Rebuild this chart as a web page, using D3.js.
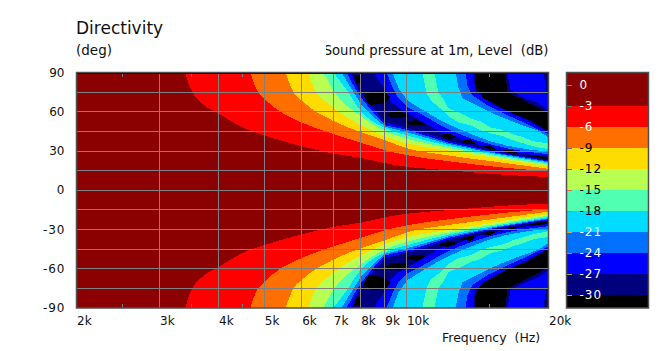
<!DOCTYPE html>
<html>
<head>
<meta charset="utf-8">
<script src="https://cdn.jsdelivr.net/npm/d3@7"></script>
<style>
  html, body { margin: 0; padding: 0; background: #fff; }
  svg { display: block; }
  text { font-family: "DejaVu Sans", sans-serif; fill: #111; white-space: pre; }
</style>
</head>
<body>
<div id="chart"></div>
<script>
// Niveaux de la barre de couleur (dB)
const levels = [0, -3, -6, -9, -12, -15, -18, -21, -24, -27, -30];
const bandColors = ['#8b0000', '#ff0000', '#ff6f00', '#ffdc00', '#b9ff51', '#50ffb2', '#00dcff', '#0070ff', '#0000ff', '#00007f', '#000000'];
const levelTextColors = ['#fff', '#fff', '#fff', '#000', '#000', '#000', '#000', '#fff', '#fff', '#fff', '#fff'];
const levelTickColors = ['#4f8f9f', '#3f8f8f', '#8f9f8f', '#4f6fbf', '#3f5fcf', '#ef5f3f', '#cf6f5f', '#cfaf3f', '#9f9f5f', '#bf9f2f', '#9f9f9f'];

const freqTicks = [2000, 3000, 4000, 5000, 6000, 7000, 8000, 9000, 10000, 20000];
const freqLabels = ['2k', '3k', '4k', '5k', '6k', '7k', '8k', '9k', '10k', '20k'];
const minorFreqTicks = [2500, 3500, 4500, 15000];
const angleLabels = [90, 60, 30, 0, -30, -60, -90];
const angleGrid = [75, 60, 45, 30, 15, 0, -15, -30, -45, -60, -75];

// Contours : [fréquence Hz, angle deg], moitié haute (le bas est le miroir)
// Lobe principal, le niveau descend quand l'angle monte
const fall3 = [[3404, 90], [3430, 85], [3524, 74.7], [3700, 66], [4000, 58.7], [4493, 48], [5000, 42], [5490, 37.5], [6026, 33.5], [7000, 28], [8030, 24.7], [9030, 20.6], [10054, 17.9], [12220, 15.3], [15590, 12.2], [20000, 10.1]];
const fall6 = [[4671, 90], [4789, 78.6], [5000, 70], [5358, 61], [6026, 51.5], [7000, 43], [8030, 36.2], [9030, 30.5], [10054, 26.7], [12220, 22.3], [15590, 17.8], [20000, 14.5]];
const fall9 = [[5544, 90], [5737, 76.3], [6026, 68], [7000, 53], [8030, 44.2], [9030, 38.1], [10054, 32], [12220, 26.7], [15590, 21.6], [20000, 16.4]];
const fall12 = [[6200, 90], [6355, 79], [7000, 63.3], [8030, 49.6], [9030, 41.2], [10054, 35.8], [12220, 30.5], [15590, 24.2], [20000, 18.3]];
const fall15 = [[6671, 90], [7000, 76.3], [8030, 56.4], [9030, 45], [10054, 39.3], [12220, 32.6], [15590, 25.9], [20000, 19.4]];
const fall18 = [[7000, 90], [7430, 77.8], [8030, 60], [9030, 47.3], [10054, 41.9], [12220, 34.1], [15590, 26.9], [20000, 20.6]];
const fall21 = [[7284, 90], [7686, 76.3], [8030, 65.5], [8520, 56], [9030, 48.4], [10054, 44.2], [12220, 35.5], [15590, 27.7], [20000, 21.4]];
const fall24 = [[7470, 90], [7724, 80.1], [8030, 70.5], [8520, 59], [9030, 49.6], [10054, 46.1], [12220, 36.6], [15590, 28.4], [20000, 22.1]];
const fall27 = [[7648, 90], [7803, 81], [8030, 74.5], [8520, 62], [9030, 51.9], [10054, 47.7], [12220, 38.1], [15590, 29], [20000, 22.9]];
// Premier lobe secondaire, montée
const rise27 = [[8650, 90], [8600, 87.7], [9030, 76.3], [9250, 68.6], [9623, 62.5], [10100, 58.7], [10870, 51.9], [11810, 44.2], [12830, 40.4], [13870, 35.8], [15070, 32.8], [16370, 29.7], [18050, 27.5], [20000, 25.9]];
const rise24 = [[9073, 90], [9347, 78.6], [9623, 70.2], [10054, 63.3], [10870, 57.2], [11810, 49.6], [12830, 43.5], [13870, 38.9], [15070, 35.1], [16370, 32], [18050, 29.4], [20000, 27.5]];
const rise21 = [[9347, 90], [9623, 78], [10054, 68.6], [10870, 61], [11810, 53.4], [12830, 47.3], [13870, 42.3], [15070, 37.4], [16370, 34], [18050, 31.3], [20000, 29.4]];
const rise18 = [[10810, 90], [11030, 74.7], [11250, 68.6], [11810, 62.5], [12280, 56.4], [12890, 51.9], [13670, 49.6], [14350, 45.8], [15070, 43.5], [16060, 41.2], [16860, 38.1], [17700, 35.8], [18580, 33.6], [20000, 31.3]];
// Descente du lobe secondaire
const fallB18 = [[11470, 90], [11690, 74.7], [11990, 69.4], [12280, 62.5], [12890, 59.5], [13670, 54.9], [14350, 52.6], [15070, 48], [15830, 46.5], [16860, 42.7], [17700, 40.4], [18580, 37.4], [20000, 35.8]];
const fallB21 = [[12710, 90], [12890, 78.6], [13150, 70.2], [14350, 63.3], [15590, 57.2], [17200, 51], [18940, 45.8], [20000, 40.4]];
const fallB24 = [[13340, 90], [13470, 80.1], [13800, 72.5], [14850, 64.8], [16060, 58.7], [17700, 51.9], [20000, 42.7]];
const fallB27 = [[13800, 90], [14010, 76.3], [15070, 67.1], [16210, 61], [18050, 53.4], [20000, 44.2]];
const fallB30 = [[13940, 90], [14010, 78.6], [14570, 70.2], [15300, 66.4], [16620, 59.5], [18320, 53.4], [20000, 45]];
// Deuxième lobe, remontée
const riseC30 = [[16210, 90], [16370, 74.7], [17440, 70.2], [18640, 64.8], [20000, 58.7]];
const riseC27 = [[16370, 90], [16620, 76.3], [17700, 70.9], [18940, 67.1], [20000, 61]];
const fallC27 = [[19500, 90], [19800, 74.7], [20000, 72.5]];

// Taches noires le long du premier creux
const nullBlobs = [
  [[7720, 88], [8030, 88], [8030, 81.6], [7850, 81.6]],
  [[8100, 72.5], [8520, 76.3], [9030, 75.5], [9250, 70.9], [8950, 66.4], [8370, 64.8], [8200, 68]],
  [[9030, 58.7], [9623, 61], [10054, 57.5], [9900, 55.5], [9300, 55.5]],
  [[10000, 52], [10500, 54], [10980, 50.3], [10700, 49.6], [10250, 49.6]],
  [[11700, 41.9], [12220, 43.5], [12890, 40.4], [12220, 39]],
  [[13000, 37.4], [13670, 38.9], [14100, 35.5], [13500, 35.1]],
  [[14500, 33.6], [15000, 34.3], [15500, 32], [15000, 31.3]],
  [[16050, 30.5], [16800, 30.5], [17200, 28.4], [16500, 28.4]],
  [[17900, 27.2], [19000, 26.7], [20000, 25], [20000, 23.6], [18800, 24.8]]
];

const width = 666, height = 351;
const plot = { left: 76.5, right: 548.5, top: 72.5, bottom: 308 };
const bar = { left: 566.5, right: 648.5, top: 72.5, bottom: 308 };

const svg = d3.select('#chart').append('svg')
  .attr('width', width)
  .attr('height', height);

const x = d3.scaleLog().domain([2000, 20000]).range([plot.left, plot.right]);
const y = d3.scaleLinear().domain([90, -90]).range([plot.top, plot.bottom]);
const levelY = d3.scaleLinear().domain([0, -30]).range([85, 295]);

// Couleur d'un niveau : -3 dB peint la bande rouge, etc.
const colorOf = db => bandColors[levels.indexOf(db)];

// Ordre de peinture, du fond vers le dessus
const layers = [
  { pts: fall3, db: -3, smooth: true }, { pts: fall6, db: -6, smooth: true },
  { pts: fall9, db: -9, smooth: true }, { pts: fall12, db: -12, smooth: true },
  { pts: fall15, db: -15, smooth: true }, { pts: fall18, db: -18, smooth: true },
  { pts: fall21, db: -21 }, { pts: fall24, db: -24 }, { pts: fall27, db: -27 },
  { pts: rise27, db: -24 }, { pts: rise24, db: -21 }, { pts: rise21, db: -18 }, { pts: rise18, db: -15 },
  { pts: fallB18, db: -18 }, { pts: fallB21, db: -21 }, { pts: fallB24, db: -24 },
  { pts: fallB27, db: -27 }, { pts: fallB30, db: -30 },
  { pts: riseC30, db: -27 }, { pts: riseC27, db: -24 }, { pts: fallC27, db: -27 }
];

const field = svg.append('g').attr('shape-rendering', 'crispEdges');
field.append('rect')
  .attr('x', plot.left).attr('y', plot.top)
  .attr('width', plot.right - plot.left).attr('height', plot.bottom - plot.top)
  .attr('fill', bandColors[0]);

[1, -1].forEach(side => {
  const area = d3.area()
    .x(d => x(d[0]))
    .y0(y(side * 90))
    .y1(d => y(side * d[1]));
  layers.forEach(layer => {
    field.append('path')
      .attr('d', area.curve(layer.smooth ? d3.curveMonotoneX : d3.curveLinear)(layer.pts))
      .attr('fill', colorOf(layer.db));
  });
  const blob = d3.line().x(d => x(d[0])).y(d => y(side * d[1]));
  nullBlobs.forEach(b => {
    field.append('path').attr('d', blob(b) + 'Z').attr('fill', bandColors[10]);
  });
});

// Grille
const grid = svg.append('g').attr('stroke', '#808080').attr('stroke-width', 1).attr('shape-rendering', 'crispEdges');
freqTicks.slice(1, -1).forEach(f => {
  grid.append('line').attr('x1', x(f)).attr('x2', x(f)).attr('y1', plot.top).attr('y2', plot.bottom);
});
angleGrid.forEach(a => {
  grid.append('line').attr('x1', plot.left).attr('x2', plot.right).attr('y1', y(a)).attr('y2', y(a));
});
minorFreqTicks.forEach(f => {
  grid.append('line').attr('x1', x(f)).attr('x2', x(f)).attr('y1', plot.top).attr('y2', plot.top + 4);
  grid.append('line').attr('x1', x(f)).attr('x2', x(f)).attr('y1', plot.bottom - 4).attr('y2', plot.bottom);
});

// Cadre
svg.append('line').attr('x1', plot.left).attr('x2', plot.right).attr('y1', plot.top + 1).attr('y2', plot.top + 1)
  .attr('stroke', '#000').attr('shape-rendering', 'crispEdges');
svg.append('rect')
  .attr('x', plot.left).attr('y', plot.top)
  .attr('width', plot.right - plot.left).attr('height', plot.bottom - plot.top)
  .attr('fill', 'none').attr('stroke', '#505050').attr('stroke-width', 1.5);

// Barre de couleur
const barG = svg.append('g');
levels.forEach((db, i) => {
  const y0 = i === 0 ? bar.top : levelY(db);
  const y1 = i === levels.length - 1 ? bar.bottom : levelY(levels[i + 1]);
  barG.append('rect')
    .attr('x', bar.left).attr('y', y0)
    .attr('width', bar.right - bar.left).attr('height', y1 - y0)
    .attr('fill', bandColors[i]).attr('shape-rendering', 'crispEdges');
});
levels.forEach((db, i) => {
  barG.append('line')
    .attr('x1', bar.left).attr('x2', bar.left + 5)
    .attr('y1', levelY(db)).attr('y2', levelY(db))
    .attr('stroke', levelTickColors[i]).attr('shape-rendering', 'crispEdges');
  barG.append('text')
    .attr('x', bar.left + 13).attr('y', levelY(db) + 4)
    .attr('font-size', 12)
    .attr('letter-spacing', db < 0 ? 1 : 0)
    .style('fill', levelTextColors[i])
    .text(db);
});
barG.append('rect')
  .attr('x', bar.left).attr('y', bar.top)
  .attr('width', bar.right - bar.left).attr('height', bar.bottom - bar.top)
  .attr('fill', 'none').attr('stroke', '#505050').attr('stroke-width', 1.5);

// Titres et axes
svg.append('text').attr('x', 76).attr('y', 34).attr('font-size', 17).text('Directivity');
svg.append('text').attr('x', 76).attr('y', 55).attr('font-size', 13.5).text('(deg)');

svg.append('clipPath').attr('id', 'clip-head')
  .append('rect').attr('x', 326).attr('y', 30).attr('width', 240).attr('height', 30);
svg.append('text').attr('x', 548.5).attr('y', 55).attr('text-anchor', 'end')
  .attr('font-size', 13.2).attr('clip-path', 'url(#clip-head)')
  .text('Sound pressure at 1m, Level  (dB)');

angleLabels.forEach(a => {
  svg.append('text').attr('x', a < 0 ? 65.5 : 64.5).attr('y', y(a) + 4)
    .attr('text-anchor', 'end').attr('font-size', 12)
    .attr('letter-spacing', a < 0 ? 1 : 0)
    .text(a);
});
freqTicks.forEach((f, i) => {
  svg.append('text').attr('x', x(f) + 0.5).attr('y', 324.5)
    .attr('font-size', 12).text(freqLabels[i]);
});
svg.append('text').attr('x', 442).attr('y', 342)
  .attr('font-size', 12.5).text('Frequency  (Hz)');
</script>
</body>
</html>
